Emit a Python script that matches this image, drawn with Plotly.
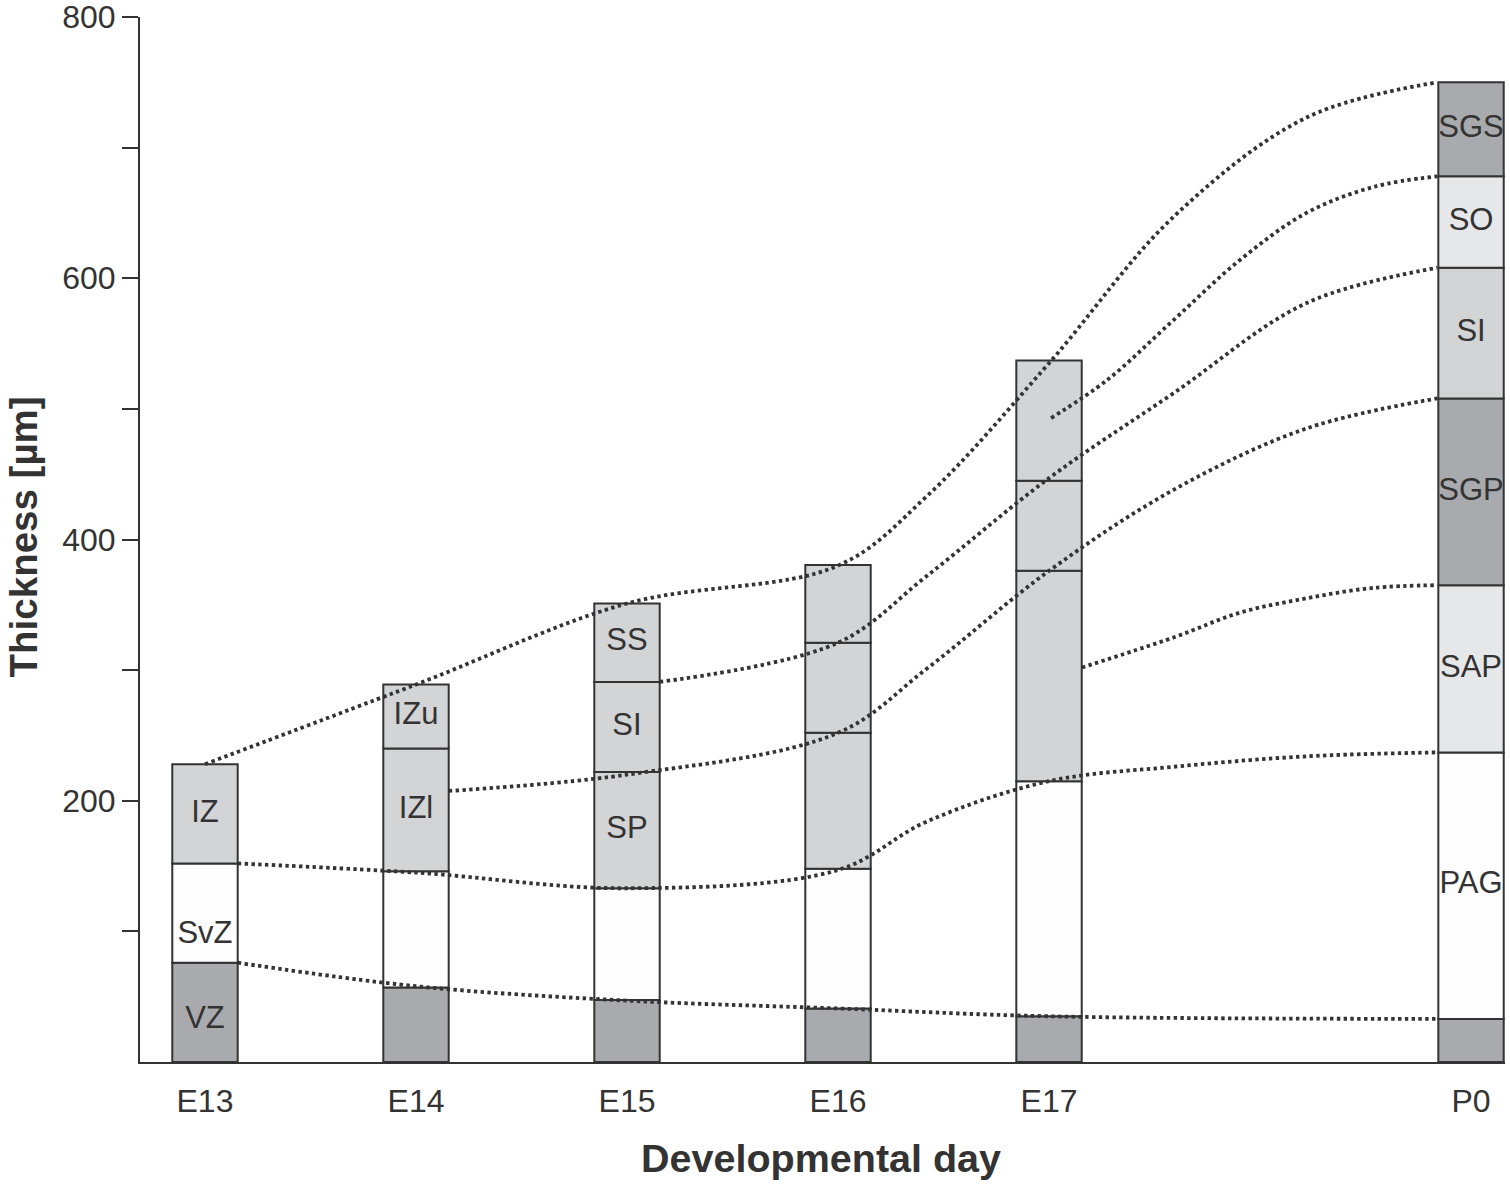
import plotly.graph_objects as go

# developmental days (P0 sits two days after E17)
days = [13, 14, 15, 16, 17, 19]
day_labels = ["E13", "E14", "E15", "E16", "E17", "P0"]

# upper boundary of every zone, bottom to top [µm]
e13_tops = [76, 152, 228]
e14_tops = [57, 146, 240, 289]
e15_tops = [47.5, 133, 222, 291, 351]
e16_tops = [41, 148, 252, 321, 380.5]
e17_tops = [35, 215, 376, 445, 537]
p0_tops = [33, 237, 365, 508, 608, 678, 750]

# zone names written inside the bars ('' = not written)
e13_names = ["VZ", "SvZ", "IZ"]
e14_names = ["", "", "IZl", "IZu"]
e15_names = ["", "", "SP", "SI", "SS"]
e16_names = ["", "", "", "", ""]
e17_names = ["", "", "", "", ""]
p0_names = ["", "PAG", "SAP", "SGP", "SI", "SO", "SGS"]

# dotted guide curves (day, µm)
outer_x = [13.0, 14.0, 15.0, 16.0, 16.42, 17.0, 17.59, 18.22, 18.84]
outer_y = [228, 289, 351, 380, 433, 535, 647, 723, 750]
so_x = [17.01, 17.275, 17.59, 17.905, 18.22, 18.54, 18.84]
so_y = [493, 522, 568, 614, 650, 670, 678]
si_x = [15.155, 16.0, 16.42, 17.0, 17.59, 18.22, 18.84]
si_y = [291, 321, 372, 447, 512, 581, 608]
sgp_x = [14.155, 15.0, 16.0, 16.42, 17.0, 17.59, 18.22, 18.84]
sgp_y = [207.5, 220, 252, 301, 376, 438, 485, 508]
sap_x = [17.156, 17.59, 17.905, 18.22, 18.54, 18.84]
sap_y = [302, 325, 344, 355, 363, 365]
pag_x = [13.155, 14.0, 15.0, 16.0, 16.42, 17.0, 17.59, 18.22, 18.84]
pag_y = [152, 145, 133, 147, 184, 215, 226, 234, 237]
vz_x = [13.155, 14.0, 15.0, 16.0, 17.0, 18.84]
vz_y = [76, 58, 47, 41, 35, 33]

# styling
INK = "#333333"
FONT = "Liberation Sans"
shade = {"d": "#a9aaad", "l": "#d3d4d6", "p": "#e6e7e9", "w": "#fdfdfd"}
bar_shades = [
    ["d", "w", "l"],
    ["d", "w", "l", "l"],
    ["d", "w", "l", "l", "l"],
    ["d", "w", "l", "l", "l"],
    ["d", "w", "l", "l", "l"],
    ["d", "w", "p", "d", "l", "p", "d"],
]
label_nudge = {"SvZ": -17, "VZ": -6}
BAR_W = 0.31

all_tops = [e13_tops, e14_tops, e15_tops, e16_tops, e17_tops, p0_tops]
all_names = [e13_names, e14_names, e15_names, e16_names, e17_names, p0_names]

fig = go.Figure()

lx, ly, lt = [], [], []
for day, tops, names, shades in zip(days, all_tops, all_names, bar_shades):
    bottoms = [0] + tops[:-1]
    heights = [t - b for t, b in zip(tops, bottoms)]
    fig.add_trace(go.Bar(
        x=[day] * len(tops), y=heights, base=bottoms, width=BAR_W,
        marker=dict(color=[shade[s] for s in shades], line=dict(color=INK, width=2)),
        showlegend=False, hoverinfo="skip"))
    for b, t, n in zip(bottoms, tops, names):
        if n:
            lx.append(day)
            ly.append((b + t) / 2 + label_nudge.get(n, 0))
            lt.append(n)

for cx, cy in [(outer_x, outer_y), (so_x, so_y), (si_x, si_y), (sgp_x, sgp_y),
               (sap_x, sap_y), (pag_x, pag_y), (vz_x, vz_y)]:
    fig.add_trace(go.Scatter(
        x=cx, y=cy, mode="lines",
        line=dict(color=INK, width=3.8, dash="3.4px,3.4px", shape="spline", smoothing=1),
        showlegend=False, hoverinfo="skip"))

fig.add_trace(go.Scatter(
    x=lx, y=ly, text=lt, mode="text",
    textfont=dict(family=FONT, size=31, color=INK),
    showlegend=False, hoverinfo="skip"))

fig.update_layout(
    width=1510, height=1185,
    margin=dict(l=140, r=5, t=17, b=123, autoexpand=False),
    paper_bgcolor="white", plot_bgcolor="white",
    barmode="overlay",
    font=dict(family=FONT, size=31, color=INK),
    xaxis=dict(
        range=[12.692, 19.161], tickvals=days, ticktext=day_labels,
        showline=True, linecolor=INK, linewidth=2, showgrid=False, zeroline=False,
        ticks="outside", ticklen=10, tickcolor="rgba(0,0,0,0)", automargin=False,
        tickfont=dict(family=FONT, size=32, color=INK)),
    yaxis=dict(
        range=[0, 800], tickvals=list(range(100, 801, 100)),
        ticktext=[str(v) if v % 200 == 0 else "" for v in range(100, 801, 100)],
        showline=True, linecolor=INK, linewidth=2, showgrid=False, zeroline=False,
        ticks="outside", ticklen=16, tickwidth=2, tickcolor=INK,
        ticklabeloverflow="allow", automargin=False,
        tickfont=dict(family=FONT, size=32, color=INK)),
    annotations=[
        dict(text="<b>Developmental day</b>", xref="paper", yref="paper",
             x=0.4989, y=-0.092, showarrow=False, xanchor="center", yanchor="middle",
             font=dict(family=FONT, size=39.5, color=INK)),
        dict(text="<b>Thickness [µm]</b>", xref="paper", yref="paper",
             x=-0.0857, y=0.502, showarrow=False, textangle=-90,
             xanchor="center", yanchor="middle",
             font=dict(family=FONT, size=38.5, color=INK)),
    ],
)

# drop the default page margin so the figure sits at the window's corner
fig.write_html("out.html", config={"displayModeBar": False},
               post_script="document.body.style.margin = '0';")
